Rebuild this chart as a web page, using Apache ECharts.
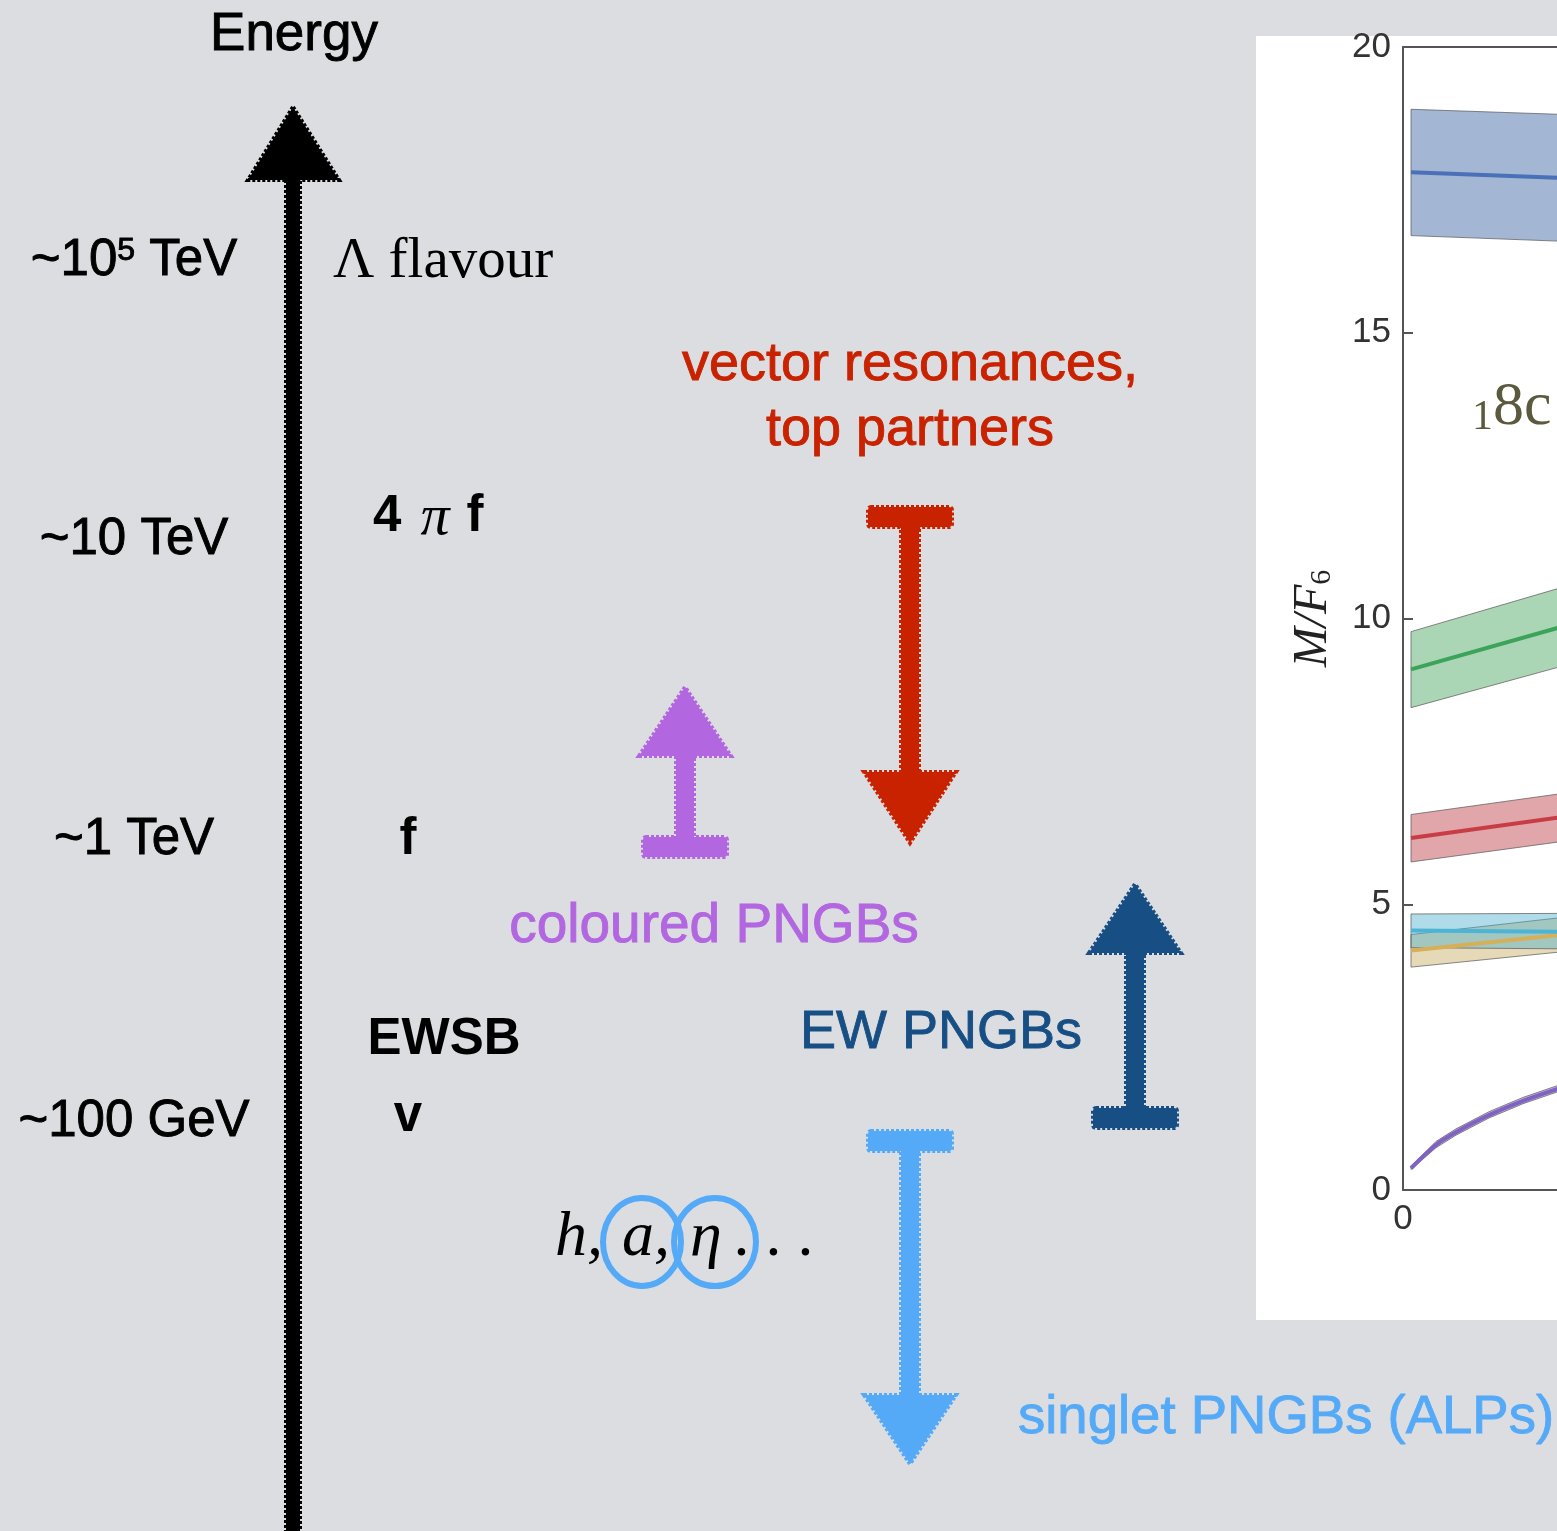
<!DOCTYPE html>
<html><head><meta charset="utf-8">
<script src="https://cdn.jsdelivr.net/npm/echarts@6/dist/echarts.min.js"></script>
<style>html,body{margin:0;padding:0;background:#dcdde0}#c{width:1557px;height:1531px}</style>
</head><body><div id="c"></div><script>
// ---------- panel chart data (M/F6 vs x) ----------
const bandX = [0.08, 1.60];
const blueLow = [16.70, 16.60], blueMid = [17.81, 17.71], blueHigh = [18.91, 18.82];
const greenLow = [8.44, 9.17], greenMid = [9.11, 9.86], greenHigh = [9.77, 10.55];
const redLow = [5.74, 6.10], redMid = [6.16, 6.53], redHigh = [6.57, 6.94];
const cyanLow = [4.24, 4.22], cyanMid = [4.54, 4.52], cyanHigh = [4.83, 4.84];
const tanLow = [3.90, 4.17], tanMid = [4.19, 4.47], tanHigh = [4.47, 4.77];
const purpleX = [0.08, 0.33, 0.53, 0.86, 1.20, 1.60];
const purpleMid = [0.38, 0.79, 1.01, 1.31, 1.56, 1.80];
const purpleLow = [0.36, 0.74, 0.96, 1.26, 1.51, 1.75];
const purpleHigh = [0.41, 0.85, 1.07, 1.37, 1.62, 1.86];
const yTickStep = 5, yMin = 0, yMax = 20;
const xMin = 0, xVisibleMax = 1.54, xTickStep = 2;

// ---------- schematic texts ----------
const energyLevels = ['~10{s|5} TeV', '~10 TeV', '~1 TeV', '~100 GeV'];
const scaleNames = ['Λ flavour', '4', 'π', 'f', 'v', 'EWSB'];
const groupLabels = ['vector resonances,', 'top partners', 'coloured PNGBs', 'EW PNGBs', 'singlet PNGBs (ALPs)'];

const SANS = '"Liberation Sans", Arial, sans-serif';
const SERIF = '"Liberation Serif", "Times New Roman", serif';

function bandSeries(xs, low, high, fill) {
  return {
    type: 'custom', coordinateSystem: 'cartesian2d', clip: true, silent: true, z: 2,
    data: [[xs[0], low[0]]],
    renderItem: function (params, api) {
      const pts = [];
      for (let i = 0; i < xs.length; i++) pts.push(api.coord([xs[i], high[i]]));
      for (let i = xs.length - 1; i >= 0; i--) pts.push(api.coord([xs[i], low[i]]));
      return { type: 'polygon', shape: { points: pts },
        style: { fill: fill, stroke: 'rgba(95,95,95,0.75)', lineWidth: 1 } };
    }
  };
}
function lineSeries(xs, ys, color, w, smooth) {
  return { type: 'line', data: xs.map((x, i) => [x, ys[i]]), symbol: 'none', smooth: smooth || false,
    lineStyle: { color: color, width: w }, z: 3, silent: true };
}

const rough = (c) => ({ fill: c, stroke: c, lineWidth: 4, lineDash: [3, 2] });
function arrow(color, cx, barY, headBaseY, tipY) {
  const els = [];
  const barH = 20, shaftHW = 9, barHW = 42, headHW = 46;
  els.push({ type: 'rect', shape: { x: cx - barHW, y: barY - barH / 2, width: barHW * 2, height: barH, r: 3 }, style: rough(color) });
  const s0 = Math.min(barY, headBaseY), s1 = Math.max(barY, headBaseY);
  els.push({ type: 'rect', shape: { x: cx - shaftHW, y: s0, width: shaftHW * 2, height: s1 - s0 }, style: rough(color) });
  els.push({ type: 'polygon', shape: { points: [[cx - headHW, headBaseY], [cx + headHW, headBaseY], [cx, tipY]] }, style: rough(color) });
  return els;
}

function txt(x, y, text, font, color, align, extra) {
  return { type: 'text', z: 10, style: Object.assign({ x: x, y: y, text: text, font: font, fill: color,
    textAlign: align || 'left', align: align || 'left', textVerticalAlign: 'middle', verticalAlign: 'middle' }, extra || {}) };
}

const RED = '#c92200', PURPLE = '#b266e0', DBLUE = '#174f85', LBLUE = '#55aaf8';
const med = (c) => ({ stroke: c, lineWidth: 0.9 });

const graphics = [];
graphics.push({ type: 'rect', z: -1, shape: { x: 1256, y: 36, width: 320, height: 1284 }, style: { fill: '#ffffff' } });
// energy axis arrow
graphics.push({ type: 'rect', shape: { x: 286, y: 175, width: 14, height: 1370 }, style: rough('#000') });
graphics.push({ type: 'polygon', shape: { points: [[293, 107], [339, 180], [248, 180]] }, style: rough('#000') });
graphics.push(txt(294, 35, 'Energy', '53px ' + SANS, '#000', 'center', med('#000')));
const levelY = [261, 540, 840, 1122];
energyLevels.forEach((t, i) => {
  graphics.push({ type: 'text', z: 10, style: { x: 134, y: levelY[i], text: t, align: 'center', verticalAlign: 'middle',
    fill: '#000', stroke: '#000', lineWidth: 0.9, font: '51px ' + SANS,
    rich: { s: { fontSize: 32, fontFamily: SANS, verticalAlign: 'top', lineHeight: 34, fill: '#000' } } } });
});
graphics.push(txt(333, 262, scaleNames[0], '57px ' + SERIF, '#000', 'left'));
graphics.push(txt(373, 517, scaleNames[1], 'bold 51px ' + SANS, '#000', 'left'));
graphics.push(txt(435, 519, scaleNames[2], 'italic 58px ' + SERIF, '#000', 'center'));
graphics.push(txt(475, 517, scaleNames[3], 'bold 51px ' + SANS, '#000', 'center'));
graphics.push(txt(408, 840, scaleNames[3], 'bold 51px ' + SANS, '#000', 'center'));
graphics.push(txt(408, 1117, scaleNames[4], 'bold 51px ' + SANS, '#000', 'center'));
graphics.push(txt(444, 1040, scaleNames[5], 'bold 51px ' + SANS, '#000', 'center'));
graphics.push(txt(910, 365, groupLabels[0], '54px ' + SANS, RED, 'center', med(RED)));
graphics.push(txt(910, 430, groupLabels[1], '54px ' + SANS, RED, 'center', med(RED)));
graphics.push(txt(714, 927, groupLabels[2], '55px ' + SANS, PURPLE, 'center', med(PURPLE)));
graphics.push(txt(941, 1033, groupLabels[3], '54px ' + SANS, DBLUE, 'center', med(DBLUE)));
graphics.push(txt(1018, 1418, groupLabels[4], '54.5px ' + SANS, LBLUE, 'left', med(LBLUE)));
arrow(RED, 910, 517, 772, 843).forEach(e => graphics.push(e));
arrow(PURPLE, 685, 847, 756, 687).forEach(e => graphics.push(e));
arrow(DBLUE, 1135, 1118, 953, 884).forEach(e => graphics.push(e));
arrow(LBLUE, 910, 1141, 1395, 1464).forEach(e => graphics.push(e));
// h, a, eta ...
graphics.push(txt(555, 1238, 'h,', 'italic 64px ' + SERIF, '#000', 'left'));
graphics.push(txt(622, 1238, 'a,', 'italic 64px ' + SERIF, '#000', 'left'));
graphics.push(txt(690, 1238, 'η', 'italic 64px ' + SERIF, '#000', 'left'));
graphics.push(txt(735, 1238, '. . .', 'italic 64px ' + SERIF, '#000', 'left'));
graphics.push({ type: 'ellipse', z: 11, shape: { cx: 642, cy: 1242, rx: 39, ry: 44 }, style: { fill: 'none', stroke: LBLUE, lineWidth: 6 } });
graphics.push({ type: 'ellipse', z: 11, shape: { cx: 715, cy: 1242, rx: 41, ry: 44 }, style: { fill: 'none', stroke: LBLUE, lineWidth: 6 } });
graphics.push({ type: 'text', z: 10, style: { x: 1472, y: 408, text: '{a|1}{b|8c}', verticalAlign: 'middle', align: 'left', fill: '#5b5a3e',
  rich: { a: { fontSize: 42, fontFamily: SERIF, fill: '#5b5a3e', verticalAlign: 'bottom' }, b: { fontSize: 62, fontFamily: SERIF, fill: '#5b5a3e', verticalAlign: 'bottom' } } } });

const axisLine = { lineStyle: { color: '#555', width: 2 } };
const axisTick = { inside: true, length: 10, lineStyle: { color: '#555', width: 2 } };
const axisLabelBase = { fontSize: 35, color: '#333', margin: 12, fontFamily: SANS };

const chart = echarts.init(document.getElementById('c'), null, { renderer: 'canvas' });
chart.setOption({
  backgroundColor: '#dcdde0',
  animation: false,
  grid: { left: 1403, top: 47, right: 0, bottom: 341, show: false },
  xAxis: [
    { type: 'value', min: xMin, max: xVisibleMax, interval: xTickStep, axisLine: axisLine, axisTick: axisTick,
      axisLabel: Object.assign({ showMaxLabel: false }, axisLabelBase), splitLine: { show: false } },
    { type: 'value', position: 'top', min: xMin, max: xVisibleMax, interval: xTickStep,
      axisLine: { show: true, lineStyle: { color: '#555', width: 2 } }, axisTick: { show: false }, axisLabel: { show: false }, splitLine: { show: false } }
  ],
  yAxis: { type: 'value', min: yMin, max: yMax, interval: yTickStep,
    name: '{i|M/F}{sub|6}', nameLocation: 'middle', nameRotate: 90, nameGap: 66,
    nameTextStyle: { rich: {
      i: { fontSize: 48, fontFamily: SERIF, fontStyle: 'italic', color: '#222' },
      sub: { fontSize: 30, fontFamily: SERIF, color: '#222', verticalAlign: 'bottom', lineHeight: 32 } } },
    axisLine: axisLine, axisTick: axisTick, axisLabel: axisLabelBase, splitLine: { show: false } },
  graphic: graphics,
  series: [
    bandSeries(bandX, blueLow, blueHigh, 'rgba(72,110,170,0.5)'),
    bandSeries(bandX, greenLow, greenHigh, 'rgba(80,170,100,0.48)'),
    bandSeries(bandX, redLow, redHigh, 'rgba(190,70,75,0.48)'),
    bandSeries(bandX, tanLow, tanHigh, 'rgba(200,170,95,0.45)'),
    bandSeries(bandX, cyanLow, cyanHigh, 'rgba(80,175,205,0.45)'),
    bandSeries(purpleX, purpleLow, purpleHigh, 'rgba(128,98,194,0.45)'),
    lineSeries(bandX, blueMid, '#4a70b8', 4),
    lineSeries(bandX, greenMid, '#3ca45a', 4),
    lineSeries(bandX, redMid, '#c83c46', 4),
    lineSeries(bandX, tanMid, '#d6b058', 4),
    lineSeries(bandX, cyanMid, '#4cb4d4', 4),
    lineSeries(purpleX, purpleMid, '#7f62c2', 4, 0.3)
  ]
});
</script></body></html>
